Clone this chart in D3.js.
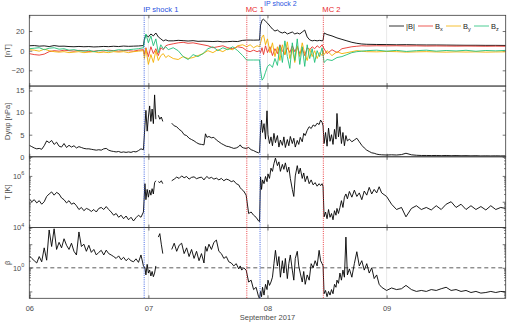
<!DOCTYPE html>
<meta charset="utf-8">
<style>
body { margin: 0; background: #fff; }
text { font-family: "Liberation Sans", Arial, Helvetica, sans-serif; }
.frame { fill: none; stroke: #3a3a3a; stroke-width: 0.8; }
.grid { stroke: #e2e2e2; stroke-width: 0.8; }
.axis line { stroke: #3a3a3a; stroke-width: 0.7; }
.axis path { display: none; }
.axis text { fill: #4d4d4d; font-size: 7.5px; }
.lbl { fill: #4d4d4d; font-size: 7.5px; }
.data { fill: none; stroke-width: 0.9; stroke-linejoin: round; }
</style>
<body>
<div id="plotHere"></div>
<script src="https://cdn.jsdelivr.net/npm/d3@7"></script>
<script>
//------------------------1. DATA------------------------//
// hours after 2017-09-06 00:00 UT

// magnetic field (panel 1)
var bHours = [0,1,2,3,4,5,6,7,8,9,10,11,12,13,14,15,16,17,18,19,20,21,22,
  23,23.2,23.5,24,24.5,25,25.5,26,26.5,27,27.5,28,
  29,30,31,32,33,34,35,36,37,38,39,40,41,42,43,
  43.8,44.5,45.2,45.9,46.4,
  46.6,46.9,47.2,47.6,48,48.5,49,49.5,50,50.5,51,51.5,52,52.5,53,53.5,54,54.5,55,55.5,56,56.5,57,57.5,58,58.5,59,59.2,
  59.4,60,61,62,63,64,65,66,
  67,68,70,72,74,76,78,80,82,84,86,88,90,92,94,96];
var bMag = [5,5.2,4.6,4.9,4.2,5.2,4.5,4.6,4.2,4,4.3,4,4.2,3.8,4,4.3,4.1,4.5,4.2,4.7,4.4,4.6,4.8,
  5.2,12,16,14,17,15,18,14,12,10,11,10,
  10,10.5,10.2,9.8,10.2,9.5,9.7,9.5,9.3,9.6,9,9.2,9.5,9.3,10.5,
  10.8,10.8,10.7,10.8,10.8,
  26,31,32,30,28,25,22,20,21,19,18,19,17,18,19,17,18,17,19,21,14,11,10,10.5,10,10.5,10,10.5,
  18,16.5,15,13,11.5,10,8.5,7.5,
  6.8,6.5,6.3,6.2,6,6.1,5.9,5.8,5.8,5.7,5.6,5.5,5.5,5.4,5.4,5.3];
var bX = [-3,-4,-4.5,-3.5,-1,0,-0.5,0.5,0,-0.5,0.3,0,-0.8,-0.5,0,-0.3,0.5,0,-0.5,0.2,0,-0.5,0.5,
  1,-4,3,-6,4,-3,2,-5,3,1,5,6,
  7,8,8.5,7.5,8,7,6,5,3,4,5,3,2,4,3,
  0,-1,0.5,-1,0,
  -2,3,-4,5,-2,4,-5,2,-3,6,0,-4,3,-2,5,-1,4,-3,2,-5,3,1,4,2,5,3,6,4,
  2,-3,1,-2,2,3,4,4.5,
  5,4.8,5,4.9,5,4.8,4.9,4.7,4.8,4.7,4.6,4.7,4.6,4.5,4.6,4.5];
var bY = [1,0.5,-0.5,1.5,0,-1,-1.5,-1,-2,-1.5,-1,-2,-1.5,-1,-2,-1.5,-2,-1,-1.5,-1,-2,-1,-0.5,
  0,-8,2,-14,-4,-12,0,-10,-5,-3,-7,-5,
  -8,-9,-6,-8,-7,-5,-3,0,-2,1,-1,2,1,5,6,
  4,6,3,5,4,
  8,14,16,6,12,-2,8,-6,4,-10,6,-4,9,-8,2,-12,5,-6,8,-3,-10,2,-6,0,-8,-2,-5,0,
  -4,0,-5,-1,-3,-2,-1,0,
  -0.5,-1,-1.2,-0.8,-1,-1.5,-1.2,-1,-1.3,-1.5,-1.2,-1.4,-1.2,-1.5,-1.3,-1.2];
var bZ = [2,2.5,3,1,2.5,3,1.5,2,0.5,1,0,-0.5,0.5,-1,0,0.5,-0.5,0,1,0.5,1,1.5,2,
  3,10,17,8,15,5,12,-2,6,2,4,1,
  3,0,-6,-9,-4,-6,-3,2,4,0,3,1,4,0,-5,
  -9.5,-9.5,-9.5,-9.5,-9.5,
  -20,-30,-28,-22,-16,-14,-17,-8,-15,5,-12,10,-6,-18,8,-10,12,-14,4,-16,6,-8,2,-12,0,-6,3,-4,
  -12,-9,-10,-7,-6,-4,-2,-1,
  -0.5,0,0.5,-0.5,0.3,-0.8,0,0.5,-0.5,0.2,-0.3,0.4,-0.6,0.2,-0.2,0.3];

// plasma (panels 2-4), null = data gap
var pHours = [0,0.5,1,1.5,2,2.5,3,3.5,4,4.5,5,5.5,6,6.5,7,7.5,8,8.5,9,9.5,10,10.5,11,11.5,
  12,12.5,13,13.5,14,14.5,15,15.5,16,16.5,17,17.5,18,18.5,19,19.5,20,20.5,21,21.5,22,22.5,23,
  23.3,23.5,23.75,24,24.25,24.5,24.75,25,25.25,25.5,
  25.75,
  26,26.3,26.6,26.9,
  27.8,
  28.7,29.2,29.7,30.2,30.7,31.2,31.7,32.2,32.7,33.2,33.7,34.2,34.7,35.2,
  35.5,35.8,36.2,36.7,37.2,37.7,38.2,38.7,39.2,39.7,40.2,40.7,41.2,41.7,42.2,42.5,42.8,43.2,43.7,
  44.2,44.7,45.2,45.7,46.2,46.4,
  46.6,46.8,47.0,47.3,47.6,47.9,48.1,48.4,48.7,49.0,49.3,49.6,50.0,50.3,50.6,51.0,51.3,51.6,52.0,52.3,
  52.6,53.0,53.3,53.6,54.0,54.3,54.6,55.0,55.3,55.6,56.0,56.4,56.8,57.2,57.6,58.0,58.4,58.7,59.0,59.2,
  59.4,59.7,60.0,60.3,60.6,60.9,61.2,61.5,61.8,62.0,62.3,62.6,62.9,63.2,63.5,63.8,64.1,64.5,65.0,65.5,
  66.0,66.5,67.0,67.5,68.0,68.5,69.0,69.5,70.0,70.5,
  71,72,73,74,75,75.9,77,78,79,80,81,82,83,84,85,86,87,88,89,90,91,92,93,94,95,96];
var dynp = [2.6,2.3,2.0,1.8,1.9,1.7,2.5,3.6,3.2,3.7,2.8,3.3,2.4,2.2,3.0,2.1,2.6,2.2,2.5,2.0,2.3,2.1,1.9,1.8,
  1.8,1.7,1.6,1.5,1.6,1.5,1.8,1.9,1.5,1.3,1.2,1.1,1.2,1.0,1.1,1.0,1.1,1.0,1.2,1.1,1.4,1.8,1.6,
  7.0,10.5,5.8,9.0,11.5,8.0,10.8,7.5,14.0,8.5,
  null,
  9.4,8.5,9.0,8.0,
  null,
  7.6,7.0,6.8,6.2,5.8,5.0,4.8,4.2,3.9,3.6,3.2,2.9,2.8,2.7,
  5.2,4.4,4.6,4.3,4.4,3.8,3.4,3.0,2.7,2.4,2.3,2.1,1.9,2.0,2.3,2.7,2.2,2.0,1.9,
  2.1,1.6,1.4,1.1,0.9,1.0,
  6.0,8.3,5.5,7.5,4.0,10.4,5.0,3.0,4.5,2.5,5.3,3.2,4.8,2.2,3.8,2.6,4.5,2.1,3.9,2.5,
  4.6,3.0,4.2,2.2,3.7,2.8,4.4,3.4,5.3,4.8,6.0,6.8,6.4,7.2,6.9,7.6,7.3,8.3,7.8,7.0,
  3.0,5.5,2.4,6.5,3.5,5.0,2.8,6.2,4.0,9.8,4.5,6.8,3.0,5.5,2.5,4.8,3.6,4.0,3.4,3.8,
  4.2,3.4,2.6,2.0,1.5,1.2,0.9,0.8,0.6,0.5,
  0.45,0.4,0.45,0.4,0.5,0.8,0.45,0.35,0.3,0.3,0.28,0.3,0.26,0.3,0.25,0.28,0.24,0.26,0.22,0.25,0.2,0.22,0.2,0.22,0.2,0.21];
var temp = [1.3e5,1.0e5,1.2e5,0.9e5,1.1e5,0.8e5,1.0e5,1.6e5,2.0e5,2.4e5,1.8e5,2.3e5,2.0e5,1.4e5,1.2e5,0.9e5,1.1e5,0.8e5,0.9e5,0.7e5,
  0.5e5,0.6e5,0.45e5,0.55e5,0.5e5,0.42e5,0.5e5,0.4e5,0.55e5,0.6e5,0.5e5,0.65e5,0.5e5,0.4e5,0.3e5,0.35e5,0.25e5,0.3e5,0.22e5,0.28e5,
  0.2e5,0.25e5,0.18e5,0.24e5,0.3e5,0.25e5,0.4e5,
  5e5,1.2e5,3e5,1.5e5,2.8e5,1.8e5,3.2e5,2.0e5,5.5e5,6.5e5,
  null,
  6e5,5.5e5,6.5e5,5e5,
  null,
  6.5e5,7.5e5,9e5,8e5,1.0e6,8.5e5,9.5e5,7.5e5,8.8e5,9.2e5,7.8e5,8.5e5,9e5,7e5,
  8.5e5,9.5e5,8e5,8.8e5,7.5e5,8.2e5,7e5,8e5,6.5e5,7.5e5,7e5,6e5,6.5e5,5e5,4.5e5,3.5e5,3e5,2.6e5,1.8e5,
  3.5e4,4e4,3e4,2.5e4,1.8e4,1.7e4,
  9e5,3e5,7e5,5e5,9.5e5,6e5,1.2e6,8e5,2.0e6,1.5e6,3.0e6,4.9e6,2.5e6,3.5e6,1.5e6,2.8e6,1.8e6,3.2e6,1.4e6,2.2e6,
  8e5,3e5,1.6e5,1.0e6,2.5e6,1.2e6,2.0e6,8e5,1.3e6,6e5,1.0e6,5e5,7e5,4.5e5,5.5e5,4e5,5e5,4.2e5,5e5,3.8e5,
  2.6e4,4e4,2.2e4,5e4,2.5e4,3.5e4,2e4,4.5e4,3e4,5.5e4,3.5e4,6e4,1.1e5,6e4,1.5e5,2.0e5,1.3e5,2.5e5,1.5e5,2.8e5,
  1.6e5,2.2e5,1.2e5,2.6e5,1.8e5,3.6e5,2.0e5,3.0e5,2.2e5,3.8e5,
  2.2e5,1.6e5,8e4,5e4,6e4,2.6e4,5.5e4,7e4,5e4,6e4,4.8e4,7e4,5e4,8e4,1.0e5,6e4,8e4,5e4,7e4,5e4,6.5e4,4.8e4,7e4,5e4,6e4,5.5e4];
var beta = [3.2,2.5,2.0,1.6,3.0,1.8,7.0,2.1,40,8,45,6,12,7,17,9,6,11,5,3.5,
  33,8,10,5,9,4.5,6,3.5,4.5,5.5,3.5,5.6,4.0,3.5,3.0,2.5,3.2,2.2,2.8,2.0,
  2.5,2.0,1.8,2.4,1.7,3.5,1.2,
  1.0,0.5,1.4,0.6,0.8,0.45,0.7,0.42,0.6,1.2,
  null,
  20,28,10,4,
  null,
  6,11,5,9,11,4,7,3,6,2.5,5,2,4,1.6,
  8,5,10,6,12,15,5,4,2.5,3,1.8,1.6,1.2,1.5,0.9,1.2,0.8,1.0,0.8,
  0.25,0.3,0.12,0.15,0.06,0.05,
  0.1,0.06,0.15,0.07,0.2,0.12,0.3,0.18,0.25,0.4,1.5,5.5,1.2,3.0,0.4,2.0,0.6,2.5,0.35,1.5,
  3.5,0.8,0.3,2.5,5.0,1.2,0.6,0.25,0.7,0.2,0.5,0.3,1.5,1.0,2.0,1.2,5.5,2.0,1.5,1.2,
  0.08,0.11,0.06,0.1,0.07,0.12,0.08,0.2,0.15,0.3,0.22,0.6,0.3,0.8,0.4,20,0.5,0.9,0.4,1.5,
  4.8,1.2,2.0,0.8,1.5,0.6,1.0,0.35,0.5,0.2,
  0.15,0.11,0.14,0.12,0.13,0.18,0.12,0.1,0.11,0.1,0.12,0.11,0.13,0.15,0.11,0.12,0.1,0.11,0.09,0.1,0.085,0.09,0.1,0.09,0.1,0.095];

// events
var eventNames = ["IP shock 1", "MC 1", "IP shock 2", "MC 2"];
var eventHours = [23.15, 43.83, 46.5, 59.25];
var eventKinds = ["shock", "mc", "shock", "mc"];

// legend
var legendNames = ["|B|", "B", "B", "B"];
var legendSubs = ["", "x", "y", "z"];

//------------------------2. PREPARATION------------------------//
var t0 = Date.UTC(2017, 8, 6);
function toDate(h) { return new Date(t0 + h * 3600e3); }

var colors = ["#000000", "#e8322b", "#f4b000", "#20c078"];
var eventColors = {shock: "#2a52e0", mc: "#e8282c"};

var margin = {top: 15.3, left: 29.3, right: 4.3};
var W = 510, H = 322;
var ph = 70.75;

var x = d3.scaleUtc()
    .domain([toDate(0), toDate(96)])
    .range([margin.left, W - margin.right]);

var panels = [
  {y: d3.scaleLinear().domain([-36, 36]), ticks: [-20, 0, 20], label: "[nT]"},
  {y: d3.scaleLinear().domain([0, 16]), ticks: [0, 5, 10, 15], label: "Dynp [nPa]"},
  {y: d3.scaleLog().domain([1e4, 5.5e6]), ticks: [1e4, 1e6], log: true, label: "T [K]"},
  {y: d3.scaleLog().domain([0.0512, 50.7]), ticks: [1], log: true, label: "\u03b2"}
];
panels.forEach(function(p, i) {
  p.top = margin.top + i * ph;
  p.y.range([p.top + ph, p.top]);
});

var svg = d3.select("#plotHere").append("svg")
    .attr("width", W)
    .attr("height", H);

var defs = svg.append("defs");
panels.forEach(function(p, i) {
  defs.append("clipPath").attr("id", "clip" + i)
    .append("rect")
      .attr("x", margin.left).attr("y", p.top)
      .attr("width", x.range()[1] - margin.left).attr("height", ph);
});

var days = [toDate(24), toDate(48), toDate(72)];
var dayTicks = [toDate(0), toDate(24), toDate(48), toDate(72)];

//------------------------3. DRAWING------------------------//

// grids, axes, frames
panels.forEach(function(p, i) {
  var g = svg.append("g");

  g.selectAll(".grid").data(days).enter().append("line")
      .attr("class", "grid")
      .attr("x1", function(d) { return x(d); }).attr("x2", function(d) { return x(d); })
      .attr("y1", p.top).attr("y2", p.top + ph);

  // y ticks, inward on both sides
  var minor = [];
  if (p.log) {
    var dom = p.y.domain();
    for (var e = Math.floor(Math.log10(dom[0])); e <= Math.ceil(Math.log10(dom[1])); e++) {
      for (var m = 2; m < 10; m++) {
        var v = m * Math.pow(10, e);
        if (v > dom[0] && v < dom[1]) minor.push(v);
      }
    }
    var majors = [];
    for (var e2 = Math.ceil(Math.log10(dom[0])); e2 <= Math.floor(Math.log10(dom[1])); e2++) majors.push(Math.pow(10, e2));
    [d3.axisLeft, d3.axisRight].forEach(function(ax, k) {
      g.append("g").attr("class", "axis")
          .attr("transform", "translate(" + (k ? x.range()[1] : margin.left) + ",0)")
          .call(ax(p.y).tickValues(majors).tickSize(-3).tickFormat(""));
      g.append("g").attr("class", "axis")
          .attr("transform", "translate(" + (k ? x.range()[1] : margin.left) + ",0)")
          .call(ax(p.y).tickValues(minor).tickSize(-1.6).tickFormat(""));
    });
    // 10^n labels
    p.ticks.forEach(function(v) {
      var t = g.append("text").attr("class", "lbl")
          .attr("x", margin.left - 5).attr("y", p.y(v) + 2.8)
          .attr("text-anchor", "end");
      t.append("tspan").text("10");
      t.append("tspan").attr("dy", -3.5).attr("font-size", "5.5px")
          .text(Math.round(Math.log10(v)));
    });
  } else {
    g.append("g").attr("class", "axis")
        .attr("transform", "translate(" + margin.left + ",0)")
        .call(d3.axisLeft(p.y).tickValues(p.ticks).tickSize(-3).tickPadding(5));
    g.append("g").attr("class", "axis")
        .attr("transform", "translate(" + x.range()[1] + ",0)")
        .call(d3.axisRight(p.y).tickValues(p.ticks).tickSize(-3).tickFormat(""));
  }

  // x ticks, inward top and bottom
  g.append("g").attr("class", "axis")
      .attr("transform", "translate(0," + (p.top + ph) + ")")
      .call(d3.axisBottom(x).tickValues(dayTicks).tickSize(-3)
        .tickPadding(7).tickFormat(i == 3 ? d3.utcFormat("%d") : ""));
  g.append("g").attr("class", "axis")
      .attr("transform", "translate(0," + p.top + ")")
      .call(d3.axisTop(x).tickValues(dayTicks).tickSize(-3).tickFormat(""));

  // y label
  svg.append("text").attr("class", "lbl")
      .attr("transform", "translate(9.5," + (p.top + ph / 2) + ") rotate(-90)")
      .attr("text-anchor", "middle")
      .text(p.label);
});

// beta = 1 reference
svg.append("line")
    .attr("x1", margin.left).attr("x2", x.range()[1])
    .attr("y1", panels[3].y(1)).attr("y2", panels[3].y(1))
    .attr("stroke", "#333").attr("stroke-width", 0.8)
    .attr("stroke-dasharray", "4,3");

//-------------------------- LINES ------------------------------//
var bRows = bHours.map(function(h, i) {
  return {t: toDate(h), v: [bMag[i], bX[i], bY[i], bZ[i]]};
});
[0, 1, 2, 3].forEach(function(k) {
  svg.append("path")
      .datum(bRows)
      .attr("class", "data")
      .attr("clip-path", "url(#clip0)")
      .attr("stroke", colors[k])
      .attr("d", d3.line()
        .x(function(d) { return x(d.t); })
        .y(function(d) { return panels[0].y(d.v[k]); }));
});

var pRows = pHours.map(function(h, i) {
  return {t: toDate(h), v: [null, dynp[i], temp[i], beta[i]]};
});
[1, 2, 3].forEach(function(k) {
  svg.append("path")
      .datum(pRows)
      .attr("class", "data")
      .attr("clip-path", "url(#clip" + k + ")")
      .attr("stroke", "#000")
      .attr("d", d3.line()
        .defined(function(d) { return d.v[k] != null; })
        .x(function(d) { return x(d.t); })
        .y(function(d) { return panels[k].y(d.v[k]); }));
});

// frames on top of the data
panels.forEach(function(p) {
  svg.append("rect").attr("class", "frame")
      .attr("x", margin.left).attr("y", p.top)
      .attr("width", x.range()[1] - margin.left).attr("height", ph);
});

//-------------------------- EVENTS ------------------------------//
eventNames.forEach(function(name, i) {
  var ex = x(toDate(eventHours[i]));
  var c = eventColors[eventKinds[i]];
  var raised = (name == "IP shock 2");
  svg.append("line")
      .attr("x1", ex).attr("x2", ex)
      .attr("y1", margin.top).attr("y2", margin.top + 4 * ph)
      .attr("stroke", c).attr("stroke-width", 0.9)
      .attr("stroke-dasharray", "1,1.2");
  svg.append("text")
      .attr("x", raised ? ex + 4 : ex - 1)
      .attr("y", raised ? 5.6 : 12.2)
      .style("font-size", raised ? "7px" : "7.6px")
      .attr("fill", c)
      .text(name);
});

//-------------------------- LEGEND ------------------------------//
var lg = svg.append("g").attr("transform", "translate(389,26)");
var lx = 0;
legendNames.forEach(function(n, i) {
  lg.append("line").attr("x1", lx).attr("x2", lx + 15).attr("y1", 0).attr("y2", 0)
      .attr("stroke", colors[i]).attr("stroke-width", 0.8);
  var t = lg.append("text").attr("class", "lbl").attr("x", lx + 17).attr("y", 2.7)
      .style("fill", "#222");
  t.append("tspan").text(n);
  if (legendSubs[i]) t.append("tspan").attr("dy", 2).attr("font-size", "5.5px").text(legendSubs[i]);
  lx += (i == 0 ? 29 : 28);
});

// x label
svg.append("text").attr("class", "lbl")
    .attr("x", (margin.left + x.range()[1]) / 2)
    .attr("y", 320)
    .attr("text-anchor", "middle")
    .text("September 2017");

</script>
</body>
